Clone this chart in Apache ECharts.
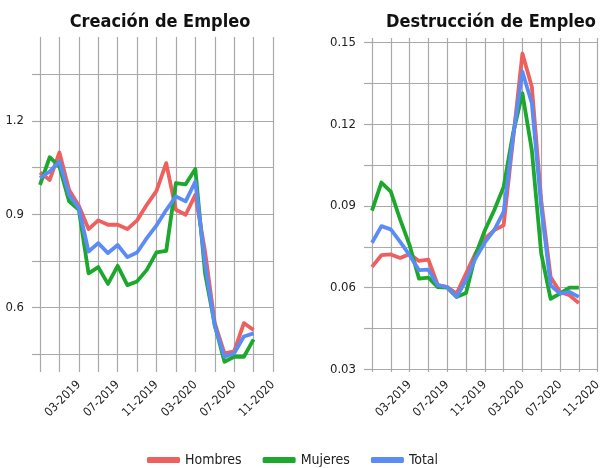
<!DOCTYPE html>
<html>
<head>
<meta charset="utf-8">
<script src="https://cdn.jsdelivr.net/npm/echarts@6/dist/echarts.min.js"></script>
<style>
  html, body { margin: 0; padding: 0; background: #fff; }
  #chart { width: 604px; height: 468px; }
</style>
</head>
<body>
<div id="chart"></div>
<script>
// months on the x axis (11-2018 .. 11-2020)
const months = [
  '11-2018', '12-2018', '01-2019', '02-2019', '03-2019', '04-2019', '05-2019',
  '06-2019', '07-2019', '08-2019', '09-2019', '10-2019', '11-2019', '12-2019',
  '01-2020', '02-2020', '03-2020', '04-2020', '05-2020', '06-2020', '07-2020',
  '08-2020', '09-2020', '10-2020', '11-2020'
];

// Creación de Empleo
const creHombres = [1.034, 1.010, 1.098, 0.978, 0.927, 0.852, 0.880, 0.866, 0.866, 0.852, 0.880, 0.930,
  0.975, 1.064, 0.914, 0.898, 0.962, 0.780, 0.550, 0.453, 0.459, 0.550, 0.528];
const creMujeres = [0.994, 1.083, 1.053, 0.941, 0.914, 0.710, 0.730, 0.676, 0.734, 0.672, 0.684, 0.721,
  0.777, 0.782, 1.000, 0.996, 1.045, 0.710, 0.545, 0.426, 0.442, 0.442, 0.498];
const creTotal = [1.016, 1.037, 1.069, 0.962, 0.919, 0.780, 0.807, 0.775, 0.801, 0.762, 0.777, 0.823,
  0.864, 0.913, 0.957, 0.941, 1.005, 0.740, 0.540, 0.442, 0.453, 0.507, 0.517];

// Destrucción de Empleo
const desHombres = [0.0676, 0.0719, 0.0722, 0.0709, 0.0723, 0.0698, 0.0703, 0.0609, 0.0602, 0.0578, 0.0652, 0.0725,
  0.0780, 0.0811, 0.0829, 0.1142, 0.1460, 0.1338, 0.0921, 0.0639, 0.0584, 0.0572, 0.0543];
const desMujeres = [0.0883, 0.0986, 0.0953, 0.0850, 0.0756, 0.0633, 0.0637, 0.0602, 0.0600, 0.0566, 0.0580, 0.0719,
  0.0810, 0.0884, 0.0970, 0.1166, 0.1314, 0.1105, 0.0725, 0.0559, 0.0578, 0.0600, 0.0600];
const desTotal = [0.0765, 0.0826, 0.0814, 0.0768, 0.0719, 0.0664, 0.0666, 0.0609, 0.0602, 0.0566, 0.0627, 0.0707,
  0.0766, 0.0811, 0.0878, 0.1154, 0.1393, 0.1277, 0.0897, 0.0608, 0.0578, 0.0584, 0.0566];

// y axis ticks and labels
const creTicks = [0.45, 0.6, 0.75, 0.9, 1.05, 1.2, 1.35];
const creLabels = [0.6, 0.9, 1.2];
const desTicks = [0.03, 0.045, 0.06, 0.075, 0.09, 0.105, 0.12, 0.135, 0.15];
const desLabels = [0.03, 0.06, 0.09, 0.12, 0.15];

const seriesNames = ['Hombres', 'Mujeres', 'Total'];
const colors = ['#EE605D', '#1BA82C', '#5B8CF5'];

const FONT = "'DejaVu Sans Condensed', 'Liberation Sans Narrow', sans-serif";
const GRID_COLOR = '#a9a9a9';

const chart = echarts.init(document.getElementById('chart'));

function xAxisFor(gridIndex) {
  return {
    type: 'category',
    gridIndex: gridIndex,
    data: months,
    boundaryGap: false,
    axisLine: { show: false },
    axisTick: { show: false },
    axisLabel: {
      interval: (i) => i > 0 && i % 4 === 0,
      rotate: 45,
      margin: 11,
      fontFamily: FONT,
      fontSize: 12,
      color: '#222'
    },
    splitLine: {
      show: true,
      interval: (i) => i % 2 === 0,
      lineStyle: { color: GRID_COLOR, width: 1.2 }
    }
  };
}

function yAxisFor(gridIndex, min, max, ticks, labels, digits) {
  return {
    type: 'value',
    gridIndex: gridIndex,
    min: min,
    max: max,
    axisLine: { show: false },
    axisTick: {
      show: true,
      length: 8,
      customValues: ticks,
      lineStyle: { color: GRID_COLOR, width: 1.2 }
    },
    axisLabel: {
      customValues: labels,
      margin: 16,
      formatter: (v) => v.toFixed(digits),
      fontFamily: FONT,
      fontSize: 13,
      color: '#222'
    },
    splitLine: { show: true, lineStyle: { color: GRID_COLOR, width: 1.2 } }
  };
}

function lineSeries(name, data, color, idx) {
  return {
    name: name,
    type: 'line',
    xAxisIndex: idx,
    yAxisIndex: idx,
    data: data,
    showSymbol: false,
    symbol: 'none',
    color: color,
    lineStyle: { width: 3.8, color: color, join: 'round' }
  };
}

chart.setOption({
  animation: false,
  title: [
    {
      text: 'Creación de Empleo',
      left: 155, top: 8, textAlign: 'center',
      textStyle: { fontFamily: FONT, fontSize: 18, fontWeight: 'bold', color: '#111' }
    },
    {
      text: 'Destrucción de Empleo',
      left: 486, top: 8, textAlign: 'center',
      textStyle: { fontFamily: FONT, fontSize: 18, fontWeight: 'bold', color: '#111' }
    }
  ],
  legend: {
    data: seriesNames,
    left: 142,
    top: 448,
    icon: 'roundRect',
    itemWidth: 33,
    itemHeight: 6,
    itemGap: 21,
    textStyle: { fontFamily: FONT, fontSize: 14, color: '#222' }
  },
  grid: [
    { left: 40, top: 37, width: 233, height: 335 },
    { left: 372, top: 38, width: 232, height: 334 }
  ],
  xAxis: [xAxisFor(0), xAxisFor(1)],
  yAxis: [
    yAxisFor(0, 0.393, 1.469, creTicks, creLabels, 1),
    yAxisFor(1, 0.029, 0.1517, desTicks, desLabels, 2)
  ],
  series: [
    lineSeries(seriesNames[0], creHombres, colors[0], 0),
    lineSeries(seriesNames[1], creMujeres, colors[1], 0),
    lineSeries(seriesNames[2], creTotal, colors[2], 0),
    lineSeries(seriesNames[0], desHombres, colors[0], 1),
    lineSeries(seriesNames[1], desMujeres, colors[1], 1),
    lineSeries(seriesNames[2], desTotal, colors[2], 1)
  ]
});
</script>
</body>
</html>
